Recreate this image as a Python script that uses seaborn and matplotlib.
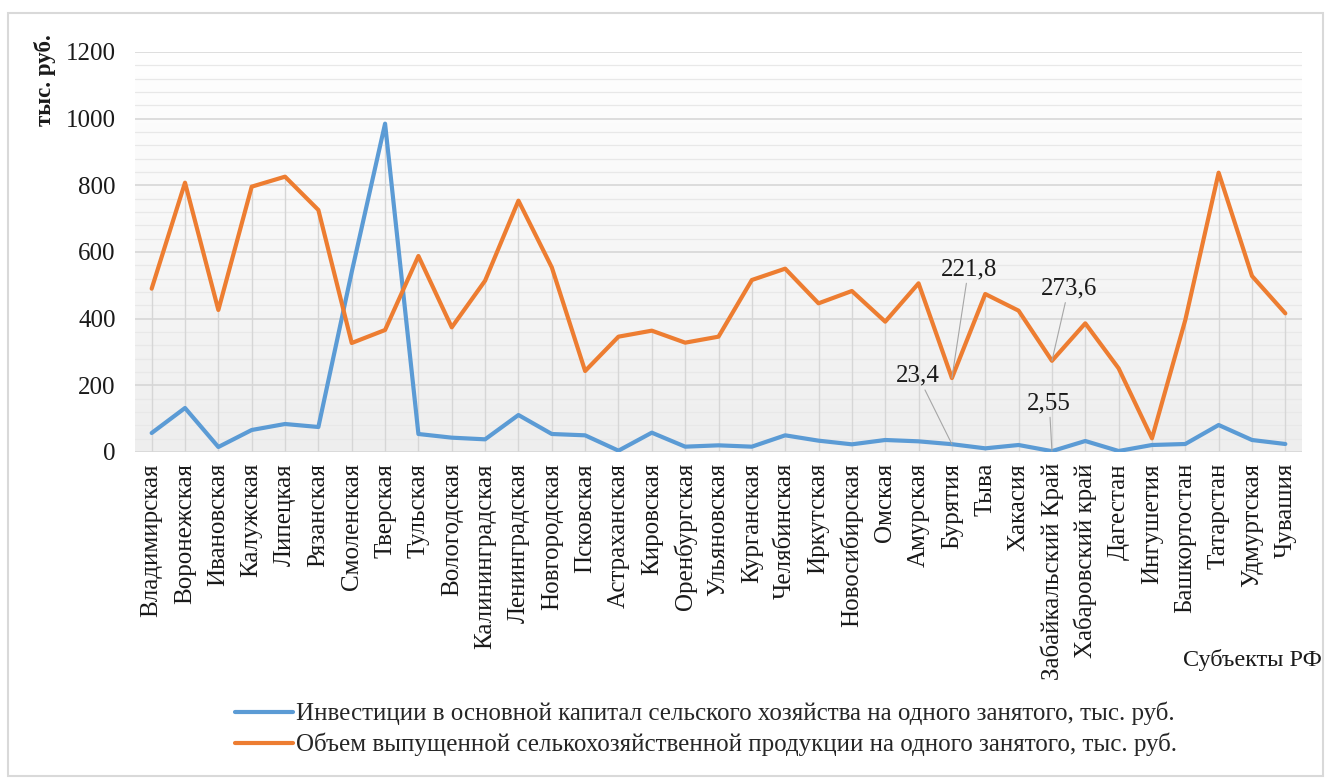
import numpy as np
import pandas as pd
import matplotlib
matplotlib.use("Agg")
import matplotlib.pyplot as plt
from matplotlib.colors import LinearSegmentedColormap
from matplotlib.patches import Rectangle
from matplotlib.lines import Line2D
import seaborn as sns

regions = ["Владимирская", "Воронежская", "Ивановская", "Калужская", "Липецкая",
           "Рязанская", "Смоленская", "Тверская", "Тульская", "Вологодская",
           "Калининградская", "Ленинградская", "Новгородская", "Псковская",
           "Астраханская", "Кировская", "Оренбургская", "Ульяновская", "Курганская",
           "Челябинская", "Иркутская", "Новосибирская", "Омская", "Амурская",
           "Бурятия", "Тыва", "Хакасия", "Забайкальский Край", "Хабаровский край",
           "Дагестан", "Ингушетия", "Башкортостан", "Татарстан", "Удмуртская", "Чувашия"]

investments = [57, 132, 15, 66, 84, 75, 540, 985, 54, 43,
               38, 111, 54, 50, 4, 58, 16, 20, 16, 50,
               34, 23, 36, 32, 23.4, 11, 21, 2.55, 33, 3,
               21, 24, 81, 36, 24]

production = [490, 808, 426, 796, 826, 726, 327, 366, 588, 374,
              514, 754, 554, 243, 346, 364, 328, 346, 516, 550,
              446, 483, 391, 506, 221.8, 474, 424, 273.6, 386, 251,
              41, 396, 838, 528, 416]

series_names = ["Инвестиции в основной капитал сельского хозяйства на одного занятого, тыс. руб.",
                "Объем выпущенной селькохозяйственной продукции на одного занятого, тыс. руб."]

# labelled points: (series, index, text, text_x, text_y)
annotations = [(1, 24, "221,8", 24.5, 516),
               (0, 24, "23,4", 22.98, 196),
               (1, 27, "273,6", 27.5, 458),
               (0, 27, "2,55", 26.92, 114)]

y_ticks = [0, 200, 400, 600, 800, 1000, 1200]

sns.set_theme(style="white")
plt.rcParams["font.family"] = ["Liberation Serif", "DejaVu Serif"]

FS = 18
W, H = 1325, 778
fig = plt.figure(figsize=(W / 100, H / 100), dpi=100)
ax = fig.add_axes([135 / W, (H - 452) / H, (1302 - 135) / W, 400 / H])

idx = np.arange(len(regions))
df = pd.DataFrame({"x": np.concatenate([idx, idx]),
                   "value": investments + production,
                   "series": [series_names[0]] * len(idx) + [series_names[1]] * len(idx)})

# background gradient (white at top, light grey at bottom)
cmap = LinearSegmentedColormap.from_list("bg", ["#ffffff", "#eeeeee"])
grad = np.linspace(1, 0, 256).reshape(-1, 1)
ax.imshow(grad, extent=[-0.5, len(regions) - 0.5, 0, 1200], aspect="auto",
          cmap=cmap, zorder=0, origin="lower", vmin=0, vmax=1)
ax.set_ylim(0, 1200)
ax.set_xlim(-0.5, len(regions) - 0.5)

# grid
for v in np.arange(0, 1201, 40):
    if v % 200:
        ax.axhline(v, color="#e8e8e8", lw=0.9, zorder=1)
for v in y_ticks:
    ax.axhline(v, color="#d4d4d4", lw=1.1, zorder=1)

# drop lines
tops = np.maximum(np.array(investments), np.array(production))
ax.vlines(idx, 0, tops, color="#d6d6d6", lw=1.0, zorder=1)

sns.lineplot(data=df, x="x", y="value", hue="series", ax=ax,
             palette=["#5B9BD5", "#ED7D31"], linewidth=3.0, zorder=3,
             legend=False)

for s, i, txt, tx, ty in annotations:
    val = (investments if s == 0 else production)[i]
    ax.annotate(txt, xy=(i, val), xytext=(tx, ty), ha="center", va="bottom",
                fontsize=FS, color="#1a1a1a", zorder=5,
                arrowprops=dict(arrowstyle="-", color="#a6a6a6", lw=0.8,
                                shrinkA=0, shrinkB=0))

ax.set_yticks(y_ticks)
ax.set_yticklabels([str(v) for v in y_ticks], fontsize=FS, color="#1a1a1a")
ax.set_xticks(idx)
ax.set_xticklabels(regions, rotation=90, fontsize=FS, color="#1a1a1a", va="top")
ax.tick_params(axis="y", length=0, pad=14)
ax.tick_params(axis="x", length=0, pad=8)
for sp in ax.spines.values():
    sp.set_visible(False)
ax.set_xlabel("")
ax.set_ylabel("")

fig.text(1322 / W, (H - 660) / H, "Субъекты РФ", ha="right", va="center",
         fontsize=17.5, color="#1a1a1a")
fig.text(45 / W, (H - 80) / H, "тыс. руб.", rotation=90, ha="center", va="center",
         fontsize=16.5, fontweight="bold", color="#1a1a1a")

handles = [Line2D([], [], color="#5B9BD5", lw=3.0), Line2D([], [], color="#ED7D31", lw=3.0)]
fig.legend(handles, series_names, loc="center", bbox_to_anchor=(706 / W, (H - 729) / H),
           frameon=False, fontsize=FS, handlelength=2.3, handletextpad=0.12,
           labelspacing=0.3, borderaxespad=0)

fig.patches.append(Rectangle((8 / W, 2 / H), 1315 / W, 763 / H, transform=fig.transFigure,
                             fill=False, edgecolor="#d9d9d9", lw=1.5))

fig.savefig("out.png", dpi=100)
